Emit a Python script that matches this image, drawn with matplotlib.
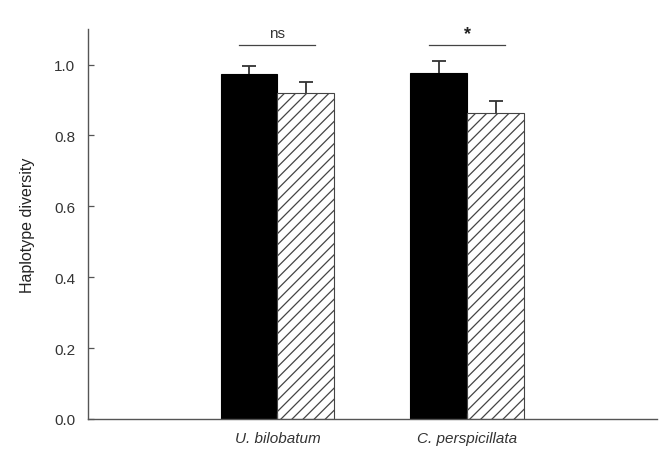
import numpy as np
import matplotlib
matplotlib.use('Agg')
import matplotlib.pyplot as plt

plt.rcParams['font.family'] = ['Liberation Sans', 'DejaVu Sans']
plt.rcParams['hatch.color'] = '#555555'
plt.rcParams['hatch.linewidth'] = 0.9

# Данные
species = ['U. bilobatum', 'C. perspicillata']
black_vals = [0.972, 0.977]
black_err = [0.025, 0.034]
hatch_vals = [0.921, 0.862]
hatch_err = [0.031, 0.034]
signif = ['ns', '*']

x = np.array([1, 2])
w = 0.3

fig = plt.figure(figsize=(6.6, 4.56), dpi=100)
ax = fig.add_axes([0.133, 0.079, 0.862, 0.855])

ax.bar(x - w / 2, black_vals, w, color='black', edgecolor='black', linewidth=0.8)
ax.bar(x + w / 2, hatch_vals, w, color='white', edgecolor='#444444', linewidth=0.8, hatch='///')

# только верхние усы
for vals, errs in [(black_vals, black_err), (hatch_vals, hatch_err)]:
    xs = x - w / 2 if vals is black_vals else x + w / 2
    eb = ax.errorbar(xs, vals, yerr=[np.zeros(2), errs], fmt='none',
                     ecolor='#333333', elinewidth=1.3, capsize=5, capthick=1.3)
    eb[1][0].set_visible(False)

# линии значимости
for xi, s in zip(x, signif):
    ax.plot([xi - 0.2, xi + 0.2], [1.056, 1.056], color='#444444', lw=0.9)
    if s == '*':
        ax.text(xi, 1.062, s, ha='center', va='bottom', fontsize=13, fontweight='bold', color='#222222')
    else:
        ax.text(xi, 1.068, s, ha='center', va='bottom', fontsize=11, color='#333333')

ax.set_xlim(0, 3)
ax.set_ylim(0, 1.1)
ax.set_yticks([0.0, 0.2, 0.4, 0.6, 0.8, 1.0])
ax.set_yticklabels(['0.0', '0.2', '0.4', '0.6', '0.8', '1.0'])
ax.set_xticks(x)
ax.set_xticklabels(species, style='italic')
ax.set_ylabel('Haplotype diversity', fontsize=11.5, color='#222222', labelpad=14)

ax.tick_params(axis='both', direction='in', length=4, color='#555555',
               labelsize=11, labelcolor='#333333', width=0.9)
ax.tick_params(axis='x', pad=9)
ax.tick_params(axis='y', pad=9)
for side in ['top', 'right']:
    ax.spines[side].set_visible(False)
for side in ['left', 'bottom']:
    ax.spines[side].set_color('#555555')
    ax.spines[side].set_linewidth(1.0)

plt.savefig('out.png', dpi=100)
